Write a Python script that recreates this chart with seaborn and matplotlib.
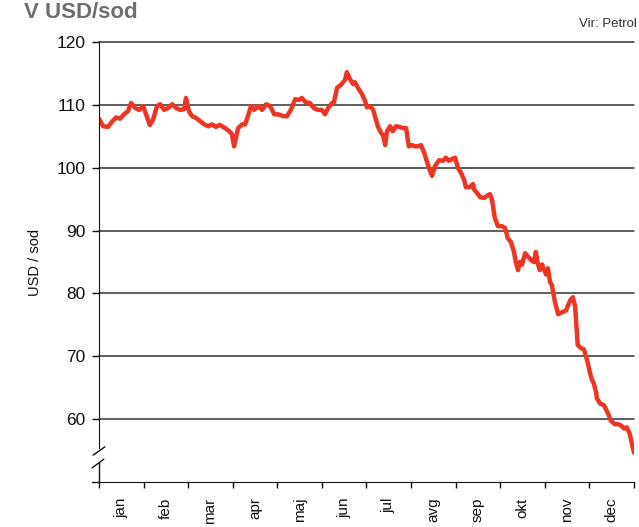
import matplotlib
matplotlib.use('Agg')
import matplotlib.pyplot as plt
import seaborn as sns
import pandas as pd

# position along the year in months (0 = 1 Jan, 12 = 31 Dec)
month_pos = [0.00, 0.09, 0.20, 0.29, 0.38, 0.47, 0.56, 0.65, 0.72, 0.81, 0.90, 0.99,
             1.08, 1.14, 1.21, 1.30, 1.37, 1.46, 1.55, 1.64, 1.73, 1.82, 1.91, 1.95,
             2.02, 2.09, 2.18, 2.27, 2.36, 2.45, 2.53, 2.62, 2.71, 2.83, 2.92, 2.98,
             3.03, 3.07, 3.12, 3.21, 3.28, 3.34, 3.41, 3.48, 3.57, 3.66, 3.75, 3.84,
             3.93, 4.02, 4.13, 4.22, 4.31, 4.40, 4.49, 4.55, 4.64, 4.73, 4.82, 4.91,
             5.00, 5.07, 5.14, 5.23, 5.27, 5.34, 5.43, 5.52, 5.56, 5.63, 5.70, 5.74,
             5.81, 5.90, 5.97, 6.01, 6.08, 6.15, 6.19, 6.26, 6.33, 6.37, 6.42, 6.46,
             6.53, 6.59, 6.66, 6.73, 6.82, 6.89, 6.95, 7.02, 7.09, 7.16, 7.22, 7.29,
             7.36, 7.42, 7.47, 7.54, 7.63, 7.72, 7.78, 7.85, 7.92, 7.99, 8.05, 8.12,
             8.19, 8.23, 8.32, 8.39, 8.41, 8.48, 8.55, 8.64, 8.70, 8.77, 8.82, 8.88,
             8.95, 9.04, 9.11, 9.17, 9.24, 9.31, 9.35, 9.40, 9.44, 9.49, 9.56, 9.62,
             9.69, 9.76, 9.80, 9.85, 9.89, 9.94, 10.03, 10.07, 10.12, 10.16, 10.23, 10.30,
             10.39, 10.48, 10.57, 10.63, 10.68, 10.74, 10.81, 10.88, 10.95, 11.01, 11.06, 11.10,
             11.15, 11.17, 11.24, 11.33, 11.42, 11.48, 11.57, 11.64, 11.71, 11.78, 11.84, 11.91,
             11.96, 12.00]

price = [107.8, 106.6, 106.5, 107.3, 108.0, 107.8, 108.5, 109.0, 110.3, 109.5, 109.2, 109.8,
         108.0, 106.8, 107.6, 109.8, 110.1, 109.2, 109.5, 110.1, 109.5, 109.2, 109.3, 111.1,
         108.9, 108.2, 107.9, 107.4, 106.9, 106.6, 106.9, 106.5, 106.8, 106.3, 105.8, 105.4,
         103.4, 104.7, 106.3, 106.9, 106.9, 108.2, 109.8, 109.2, 109.8, 109.2, 110.1, 109.8,
         108.5, 108.5, 108.2, 108.2, 109.3, 110.9, 110.8, 111.1, 110.4, 110.3, 109.5, 109.2,
         109.2, 108.5, 109.5, 110.3, 110.4, 112.7, 113.2, 114.0, 115.2, 114.1, 113.3, 113.6,
         112.7, 111.7, 110.6, 109.6, 109.8, 109.2, 108.2, 106.5, 105.5, 105.2, 103.6, 105.8,
         106.6, 105.8, 106.6, 106.5, 106.3, 106.3, 103.4, 103.6, 103.4, 103.4, 103.6, 102.5,
         100.9, 99.6, 98.7, 100.3, 101.2, 101.1, 101.6, 101.1, 101.4, 101.6, 100.0, 99.2,
         98.1, 96.9, 96.9, 97.4, 96.6, 96.0, 95.3, 95.2, 95.5, 95.8, 94.8, 92.0,
         90.7, 90.7, 90.4, 88.8, 88.2, 86.6, 85.0, 83.7, 85.0, 84.6, 86.4, 85.9,
         85.3, 85.0, 86.6, 84.6, 83.7, 84.6, 83.0, 84.0, 81.8, 81.3, 78.6, 76.7,
         77.0, 77.3, 78.9, 79.4, 78.0, 71.8, 71.3, 71.1, 69.4, 67.5, 66.2, 65.7,
         64.3, 63.3, 62.5, 62.2, 60.9, 59.8, 59.2, 59.2, 59.0, 58.5, 58.7, 57.6,
         55.9, 54.7]

months = ['jan', 'feb', 'mar', 'apr', 'maj', 'jun', 'jul', 'avg', 'sep', 'okt', 'nov', 'dec']
y_ticks = [60, 70, 80, 90, 100, 110, 120]

df = pd.DataFrame({'month': month_pos, 'price': price})

sns.set_style('white')
plt.rcParams['font.family'] = ['Liberation Sans', 'DejaVu Sans']

fig = plt.figure(figsize=(6.39, 5.27), dpi=100)
ax = fig.add_axes([0.155, 0.0854, 0.837, 0.8349])

sns.lineplot(data=df, x='month', y='price', color='#ee3524', linewidth=3.2, ax=ax)

ax.set_xlim(0, 12)
ax.set_ylim(50, 120)
ax.set_yticks(y_ticks)
ax.tick_params(axis='y', direction='out', length=5, width=1, color='#111111',
               labelsize=12.5, pad=5, left=True, labelcolor='#111111')
ax.yaxis.grid(True, color='#333333', linewidth=1.1)
for gl in ax.get_ygridlines():
    gl.set_clip_on(False)

ax.set_xticks(range(13))
ax.set_xticklabels([])
ax.set_xticks([m + 0.5 for m in range(12)], minor=True)
ax.set_xticklabels(months, minor=True, rotation=90, va='top')
ax.tick_params(axis='x', which='major', direction='out', length=4.5, width=1, color='#111111', bottom=True)
ax.tick_params(axis='x', which='minor', length=0, labelsize=11, pad=11, labelcolor='#111111')
ax.set_xlabel('')
ax.set_ylabel('USD / sod', fontsize=10.5, labelpad=10, color='#111111')

for s in ['top', 'right']:
    ax.spines[s].set_visible(False)
ax.spines['left'].set_color('#111111')
ax.spines['bottom'].set_color('#111111')
ax.spines['left'].set_bounds(55.4, 120)

# axis break: lower stub of the y axis, two slashes, bottom axis extends left
ax.plot([0, 0], [0, 0.0455], transform=ax.transAxes, color='#111111', lw=1, clip_on=False)
ax.plot([-0.013, 0], [0, 0], transform=ax.transAxes, color='#111111', lw=1, clip_on=False)
ax.plot([-0.011, 0.011], [0.061, 0.080], transform=ax.transAxes, color='#111111', lw=1, clip_on=False)
ax.plot([-0.013, 0.009], [0.032, 0.052], transform=ax.transAxes, color='#111111', lw=1, clip_on=False)

fig.text(0.038, 0.966, 'V USD/sod', fontsize=16, fontweight='bold', color='#6e6e6e',
         family=['Liberation Sans Narrow', 'Liberation Sans', 'DejaVu Sans'], va='baseline')
fig.text(0.997, 0.949, 'Vir: Petrol', fontsize=9.5, color='#333333', ha='right',
         family=['Liberation Sans Narrow', 'Liberation Sans', 'DejaVu Sans'], va='baseline')

fig.savefig('out.png', dpi=100)
